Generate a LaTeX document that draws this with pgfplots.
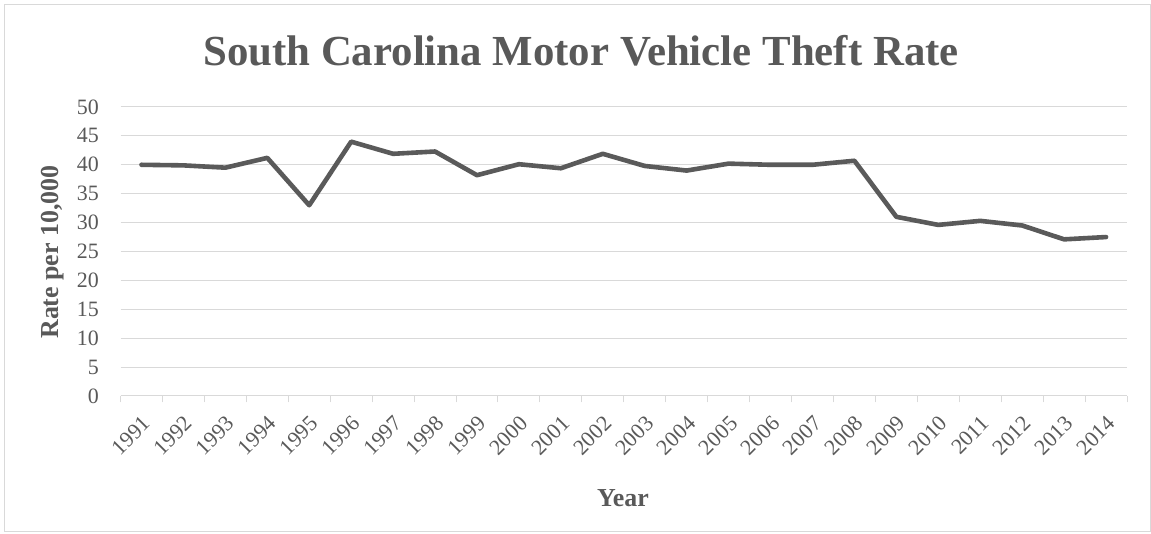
\documentclass[border=0pt]{standalone}
\usepackage{fontspec}
\setmainfont{Liberation Serif}
\usepackage{pgfplots}
\pgfplotsset{compat=1.18}
\definecolor{txt}{HTML}{595959}
\definecolor{gridc}{HTML}{D9D9D9}
\definecolor{linec}{HTML}{5A5A5A}
\begin{document}
\begin{tikzpicture}[x=1bp,y=1bp]
\path[use as bounding box] (0,0) rectangle (1151,534);
\draw[gridc, line width=1bp] (4,2) rectangle (1150,529);
\begin{axis}[
  at={(120.5bp,138bp)}, anchor=south west,
  width=1006.5bp, height=289bp, scale only axis,
  xmin=-0.5, xmax=23.5, ymin=0, ymax=50,
  axis lines*=left,
  x axis line style={draw=gridc, line width=1bp, -},
  y axis line style={draw=none},
  xtick={-0.5,0.5,...,23.5},
  x tick label as interval,
  xticklabels={1991,1992,1993,1994,1995,1996,1997,1998,1999,2000,2001,2002,2003,2004,2005,2006,2007,2008,2009,2010,2011,2012,2013,2014},
  xtick style={draw=gridc, line width=1bp},
  tick align=outside,
  major tick length=6.5bp,
  ytick={0,5,...,50},
  ytick style={draw=none},
  ymajorgrids,
  grid style={draw=gridc, line width=1bp},
  /pgf/number format/assume math mode=true,
  ticklabel style={font=\fontsize{22}{22}\selectfont, text=txt},
  xticklabel style={rotate=45, anchor=north east, inner sep=0bp},
  xticklabel shift=12bp,
  yticklabel style={anchor=east, inner sep=1bp, xshift=-14bp},
  clip=false,
]
\addplot[linec, line width=4.6bp, line join=round, line cap=round] coordinates {
(0,40.0) (1,39.9) (2,39.5) (3,41.2) (4,33.0) (5,44.0) (6,41.9) (7,42.3)
(8,38.2) (9,40.1) (10,39.4) (11,41.9) (12,39.8) (13,39.0) (14,40.2) (15,40.0)
(16,40.0) (17,40.7) (18,31.0) (19,29.6) (20,30.3) (21,29.5) (22,27.1) (23,27.5)
};
\end{axis}
\node[text=txt, font=\bfseries\fontsize{43}{43}\selectfont, anchor=base] at (581,468) {South Carolina Motor Vehicle Theft Rate};
\node[text=txt, font=\bfseries\fontsize{26}{26}\selectfont, rotate=90] at (53,282) {Rate per 10,000};
\node[text=txt, font=\bfseries\fontsize{26}{26}\selectfont, anchor=base] at (623,27) {Year};
\end{tikzpicture}
\end{document}
